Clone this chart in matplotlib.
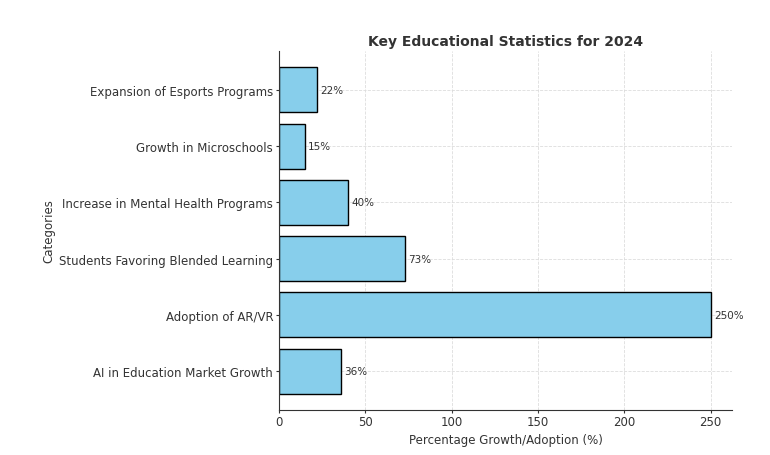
import matplotlib.pyplot as plt

categories = ['AI in Education Market Growth', 'Adoption of AR/VR',
              'Students Favoring Blended Learning', 'Increase in Mental Health Programs',
              'Growth in Microschools', 'Expansion of Esports Programs']
values = [36, 250, 73, 40, 15, 22]

fig = plt.figure(figsize=(7.7, 4.56), dpi=100)
ax = fig.add_axes([0.362, 0.099, 0.589, 0.787])

bars = ax.barh(categories, values, color='skyblue', edgecolor='black', height=0.8)
for bar, v in zip(bars, values):
    ax.text(bar.get_width() + 2, bar.get_y() + bar.get_height() / 2, f'{v}%',
            va='center', ha='left', fontsize=7.5, color='#333333')

ax.set_title('Key Educational Statistics for 2024', fontsize=10, fontweight='bold',
             color='#333333', pad=4)
ax.set_xlabel('Percentage Growth/Adoption (%)', fontsize=8.5, color='#333333', labelpad=3)
ax.set_ylabel('Categories', fontsize=8.5, color='#333333', labelpad=3)
ax.tick_params(labelsize=8.5, colors='#333333', length=2, pad=2)
ax.grid(True, linestyle='--', linewidth=0.6, color='#dddddd')
ax.set_axisbelow(True)
ax.spines['top'].set_visible(False)
ax.spines['right'].set_visible(False)
ax.spines['left'].set_color('#333333')
ax.spines['bottom'].set_color('#333333')

fig.savefig('out.png', dpi=100)
